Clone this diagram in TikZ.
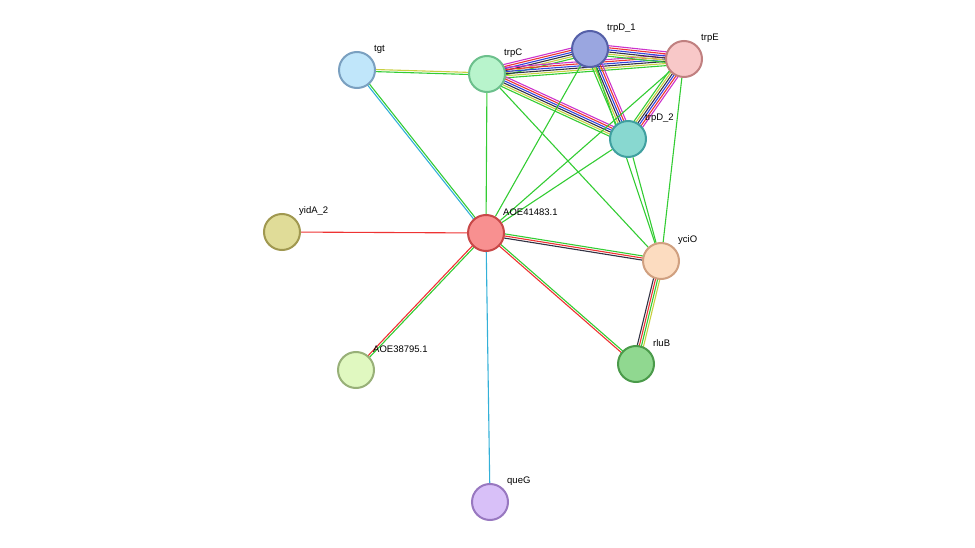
\documentclass[tikz,border=0pt]{standalone}
\usepackage{fontspec}
\setmainfont{Liberation Sans}
\usetikzlibrary{calc,backgrounds}
\definecolor{eg}{HTML}{33CC33}
\definecolor{er}{HTML}{EE3333}
\definecolor{eb}{HTML}{3344DD}
\definecolor{ek}{HTML}{333344}
\definecolor{ey}{HTML}{C8D040}
\definecolor{em}{HTML}{CC33CC}
\definecolor{ec}{HTML}{33B0D8}
\tikzset{prot/.style={circle,draw,line width=2pt,minimum size=36pt,inner sep=0},
 lab/.style={anchor=west,font=\fontsize{9.5pt}{10pt}\selectfont,inner sep=0}}
\newcommand\medge[4]{%
 \foreach \cc [count=\i] in {#4}{%
  \pgfmathsetmacro\off{(\i-(#3+1)/2)*2.1}%
  \draw[\cc,line width=1.1pt] ($(#1)!\off pt!90:(#2)$) -- ($(#2)!\off pt!-90:(#1)$);}}
\newcommand\N[6]{\definecolor{f#1}{HTML}{#4}\definecolor{d#1}{HTML}{#5}%
 \node[prot,fill=f#1,draw=d#1] (#1) at (#2,#3) {}; \node[lab] (#1l) at (#2+17,#3-21) {#6};}
\begin{document}
\begin{tikzpicture}[x=1pt,y=-1pt]
\useasboundingbox (0,0) rectangle (975,548);
\N{tgt}{357}{70}{C0E6FA}{7AA0C0}{tgt}
\N{trpC}{487}{74}{B8F4CC}{6CC08C}{trpC}
\N{trpDa}{590}{49}{9AA6E0}{5560A8}{trpD\_1}
\N{trpE}{684}{59}{F8C8C8}{C08080}{trpE}
\N{trpDb}{628}{139}{88D8D0}{40A0A0}{trpD\_2}
\N{yidA}{282}{232}{E0DC98}{A09850}{yidA\_2}
\N{aoe}{486}{233}{F89090}{C84848}{AOE41483.1}
\N{yciO}{661}{261}{FCDCC0}{D0A080}{yciO}
\N{rluB}{636}{364}{90D890}{4A9A4A}{rluB}
\N{aoeb}{356}{370}{E0F8C0}{98B078}{AOE38795.1}
\N{queG}{490}{502}{D8C0F8}{9878C0}{queG}
\begin{pgfonlayer}{background}
\medge{tgt}{trpC}{2}{eg,ey}
\medge{tgt}{aoe}{2}{ec,eg}
\foreach \a/\b in {trpC/trpDa,trpC/trpE,trpC/trpDb,trpDa/trpE,trpDa/trpDb,trpE/trpDb}{\medge{\a}{\b}{6}{eg,ey,ek,eb,er,em}}
\foreach \a/\b in {trpC/aoe,trpC/yciO,trpDa/aoe,trpE/aoe,trpDb/aoe,trpDb/yciO,trpDa/yciO,trpE/yciO}{\draw[eg,line width=1.1pt] (\a) -- (\b);}
\medge{aoe}{yciO}{3}{ek,er,eg}
\medge{aoe}{rluB}{2}{er,eg}
\medge{yciO}{rluB}{4}{ek,er,eg,ey}
\draw[er,line width=1.1pt] (yidA) -- (aoe);
\medge{aoe}{aoeb}{2}{er,eg}
\draw[ec,line width=1.1pt] (aoe) -- (queG);
\end{pgfonlayer}
\end{tikzpicture}
\end{document}
